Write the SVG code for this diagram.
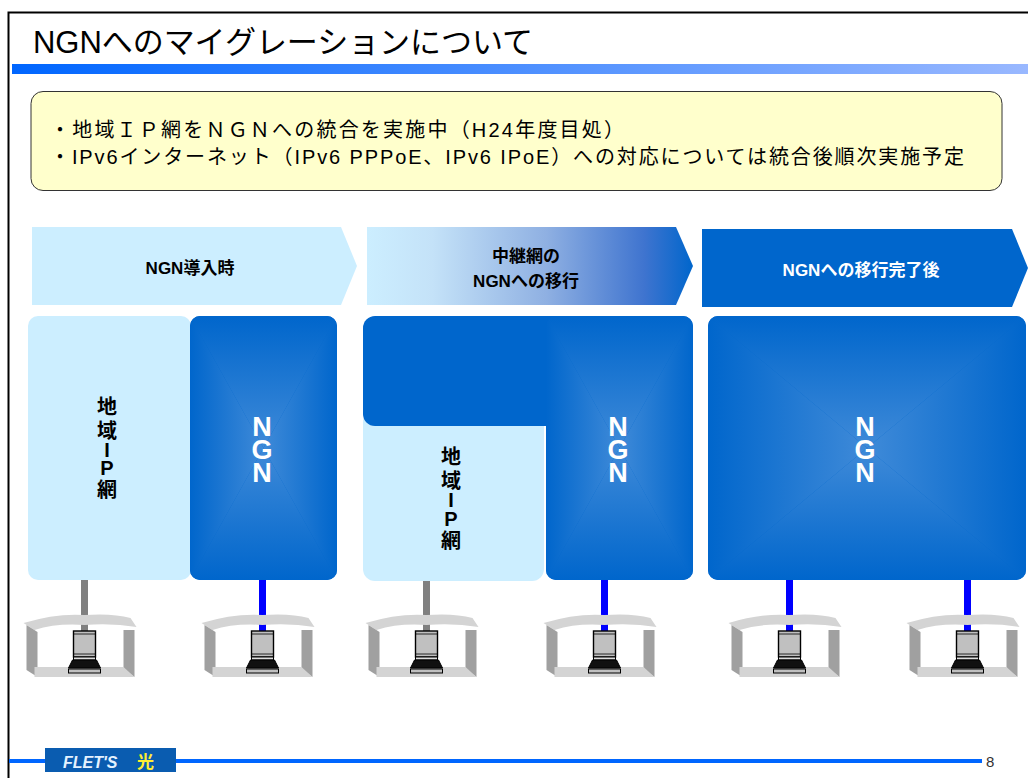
<svg xmlns="http://www.w3.org/2000/svg" xmlns:xlink="http://www.w3.org/1999/xlink" width="1028" height="778" viewBox="0 0 1028 778">
<style>
text{font-family:"Liberation Sans","Noto Sans CJK JP",sans-serif;fill:#000}
.hd{font-size:17px;font-weight:700;text-anchor:middle}
.ngn{font-size:27px;font-weight:700;fill:#fff;text-anchor:middle}
.ip{font-size:20px;font-weight:700;text-anchor:middle}
.body{font-size:20px}
.light{fill:#cceeff}
.solid{fill:#0066cc}
.gray{stroke:#808080;stroke-width:7;fill:none}
.blue{stroke:#0000ff;stroke-width:7;fill:none}
</style>
<defs>
<linearGradient id="bar" x1="0" x2="1" y1="0" y2="0"><stop offset="0" stop-color="#0066ff"/><stop offset="1" stop-color="#99b8ff"/></linearGradient>
<linearGradient id="mig" x1="0" x2="1" y1="0" y2="0"><stop offset="0" stop-color="#cceeff"/><stop offset=".2" stop-color="#c4e2f8"/><stop offset=".55" stop-color="#8fb0e2"/><stop offset=".85" stop-color="#3f74cf"/><stop offset="1" stop-color="#0066cc"/></linearGradient>
<linearGradient id="gd" x1="0" x2="0" y1="0" y2="1"><stop offset="0" stop-color="#0066cc"/><stop offset="1" stop-color="#3f8ad8"/></linearGradient>
<linearGradient id="gu" x1="0" x2="0" y1="1" y2="0"><stop offset="0" stop-color="#0066cc"/><stop offset="1" stop-color="#3f8ad8"/></linearGradient>
<linearGradient id="gr" x1="0" x2="1" y1="0" y2="0"><stop offset="0" stop-color="#0066cc"/><stop offset="1" stop-color="#3f8ad8"/></linearGradient>
<linearGradient id="gl" x1="1" x2="0" y1="0" y2="0"><stop offset="0" stop-color="#0066cc"/><stop offset="1" stop-color="#3f8ad8"/></linearGradient>
<clipPath id="c1"><rect x="190" y="316" width="147" height="264" rx="10"/></clipPath>
<clipPath id="c2"><rect x="546" y="316" width="147" height="264" rx="10"/></clipPath>
<clipPath id="c3"><rect x="708" y="316" width="318" height="264" rx="10"/></clipPath>
<g id="station">
<path d="M-61 -7Q-28 -17 0 -15Q28 -17 46 -12L52 -3Q28 -7 0 -5Q-28 -7 -50 0Z" fill="#d4d4d4"/>
<path d="M-58 -5L-47 2V47L-58 40Z" fill="#a0a0a0"/>
<path d="M39 0H50V47L39 39Z" fill="#a0a0a0"/>
<path d="M-50 47V37H39L50 47Z" fill="#d4d4d4"/>
<rect x="-11" y="1" width="22" height="26" fill="#c0c0c0" stroke="#000" stroke-width="1.4"/>
<path d="M-11 4H11M-11 24H11" stroke="#000" stroke-width=".8"/>
<path d="M-11 27H11V30H-11Z" fill="#ddd" stroke="#000"/>
<path d="M-12 30H12L16 38H-16Z" fill="#111" stroke="#000"/>
<rect x="-16" y="39" width="32" height="4" fill="#c0c0c0" stroke="#000"/>
</g>
</defs>
<rect width="1028" height="778" fill="#fff"/>
<path d="M8.5 778V12.500H1028" fill="none" stroke="#000" stroke-width="2"/>
<text x="33" y="53" font-size="31" textLength="500" lengthAdjust="spacing">NGNへのマイグレーションについて</text>
<rect x="12" y="64" width="1016" height="10" fill="url(#bar)"/>
<g id="summary">
<rect x="31" y="91.500" width="971" height="99" rx="12" fill="#ffffcc" stroke="#333" stroke-width="1"/>
<text class="body" x="50" y="137" textLength="574" lengthAdjust="spacing">・地域ＩＰ網をＮＧＮへの統合を実施中（H24年度目処）</text>
<text class="body" x="50" y="164" textLength="914" lengthAdjust="spacing">・IPv6インターネット（IPv6 PPPoE、IPv6 IPoE）への対応については統合後順次実施予定</text>
</g>
<g id="phase-1"><path class="light" d="M32 227H341L357 266L341 305H32Z"/><text class="hd" x="190" y="274">NGN導入時</text></g>
<g id="phase-2"><path fill="url(#mig)" d="M367 227H676L693 266L676 305H367Z"/><text class="hd" x="526" y="262">中継網の</text><text class="hd" x="526" y="287">NGNへの移行</text></g>
<g id="phase-3"><path class="solid" d="M702 229H1012L1028 268L1012 307H702Z"/><text class="hd" x="861" y="276" style="fill:#fff">NGNへの移行完了後</text></g>
<g id="connectors">
<path class="gray" d="M84.500 580V632"/>
<path class="blue" d="M262.500 580V632"/>
<path class="gray" d="M426.500 580V632"/>
<path class="blue" d="M604.500 580V632"/>
<path class="blue" d="M789.500 580V632"/>
<path class="blue" d="M967.500 580V632"/>
</g>
<g id="ip-1"><rect class="light" x="28" y="316" width="163" height="264" rx="10"/>
<text class="ip" x="107" y="414">地</text><text class="ip" x="107" y="438">域</text><text class="ip" x="107" y="457">I</text><text class="ip" x="107" y="475">P</text><text class="ip" x="107" y="497">網</text></g>
<g id="ngn-1"><g clip-path="url(#c1)"><rect x="190" y="316" width="147" height="264" fill="#0066cc"/>
<polygon fill="url(#gd)" points="190,316 337,316 263.500,448"/><polygon fill="url(#gu)" points="190,580 337,580 263.500,448"/><polygon fill="url(#gr)" points="190,316 190,580 263.500,448"/><polygon fill="url(#gl)" points="337,316 337,580 263.500,448"/></g>
<text class="ngn" x="262" y="436">N</text><text class="ngn" x="262" y="459">G</text><text class="ngn" x="262" y="482">N</text></g>
<g id="ip-2"><rect class="light" x="363" y="410" width="181" height="171" rx="12"/>
<text class="ip" x="451" y="464">地</text><text class="ip" x="451" y="488">域</text><text class="ip" x="451" y="507">I</text><text class="ip" x="451" y="526">P</text><text class="ip" x="451" y="548">網</text></g>
<g id="transit"><rect class="solid" x="363" y="316" width="250" height="110" rx="12"/></g>
<g id="ngn-2"><g clip-path="url(#c2)"><rect x="546" y="316" width="147" height="264" fill="#0066cc"/>
<polygon fill="url(#gd)" points="546,316 693,316 619.500,448"/><polygon fill="url(#gu)" points="546,580 693,580 619.500,448"/><polygon fill="url(#gr)" points="546,316 546,580 619.500,448"/><polygon fill="url(#gl)" points="693,316 693,580 619.500,448"/></g>
<text class="ngn" x="618" y="436">N</text><text class="ngn" x="618" y="459">G</text><text class="ngn" x="618" y="482">N</text></g>
<g id="ngn-3"><g clip-path="url(#c3)"><rect x="708" y="316" width="318" height="264" fill="#0066cc"/>
<polygon fill="url(#gd)" points="708,316 1026,316 867,448"/><polygon fill="url(#gu)" points="708,580 1026,580 867,448"/><polygon fill="url(#gr)" points="708,316 708,580 867,448"/><polygon fill="url(#gl)" points="1026,316 1026,580 867,448"/></g>
<text class="ngn" x="865" y="436">N</text><text class="ngn" x="865" y="459">G</text><text class="ngn" x="865" y="482">N</text></g>
<g id="pc-1"><use xlink:href="#station" href="#station" x="84.500" y="630"/></g>
<g id="pc-2"><use xlink:href="#station" href="#station" x="262.500" y="630"/></g>
<g id="pc-3"><use xlink:href="#station" href="#station" x="426.500" y="630"/></g>
<g id="pc-4"><use xlink:href="#station" href="#station" x="604.500" y="630"/></g>
<g id="pc-5"><use xlink:href="#station" href="#station" x="789.500" y="630"/></g>
<g id="pc-6"><use xlink:href="#station" href="#station" x="967.500" y="630"/></g>
<g id="footer">
<rect x="9" y="759" width="973" height="4" fill="#0066ff"/>
<rect x="45" y="748" width="131" height="24" fill="#0a5cb0"/>
<text x="63" y="768" font-size="16" font-weight="700" font-style="italic" style="fill:#e4f2ff">FLET'S</text>
<text x="137" y="768" font-size="17" font-weight="700" style="fill:#ffee33">光</text>
<text x="986" y="767" font-size="15" style="fill:#333">8</text>
</g>
</svg>
